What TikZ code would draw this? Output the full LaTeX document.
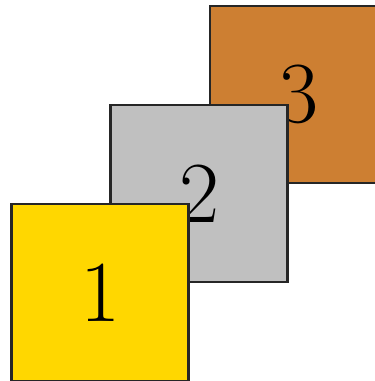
\documentclass[tikz,border=0pt]{standalone}
\usepackage{xcolor}
\definecolor{myGold}{RGB}{255, 215, 0}
\definecolor{mySilver}{RGB}{192, 192, 192}
\definecolor{myBronze}{RGB}{205, 127, 50}
\tikzset{
	card/.style={draw=black!85, thick, rectangle, minimum size=2cm, inner sep=0pt,
		font=\fontsize{28}{34}\selectfont}
}

\begin{document}
\begin{tikzpicture}
			\useasboundingbox (0,0) rectangle (4.237,4.305);
			\draw (3.373,3.237) node[card, fill=myBronze] (three) {3};
			\draw (2.249,2.119) node[card, fill=mySilver] (two) {2};
			\draw (1.130,1.000) node[card, fill=myGold] (one) {1};
		\end{tikzpicture}
\end{document}
